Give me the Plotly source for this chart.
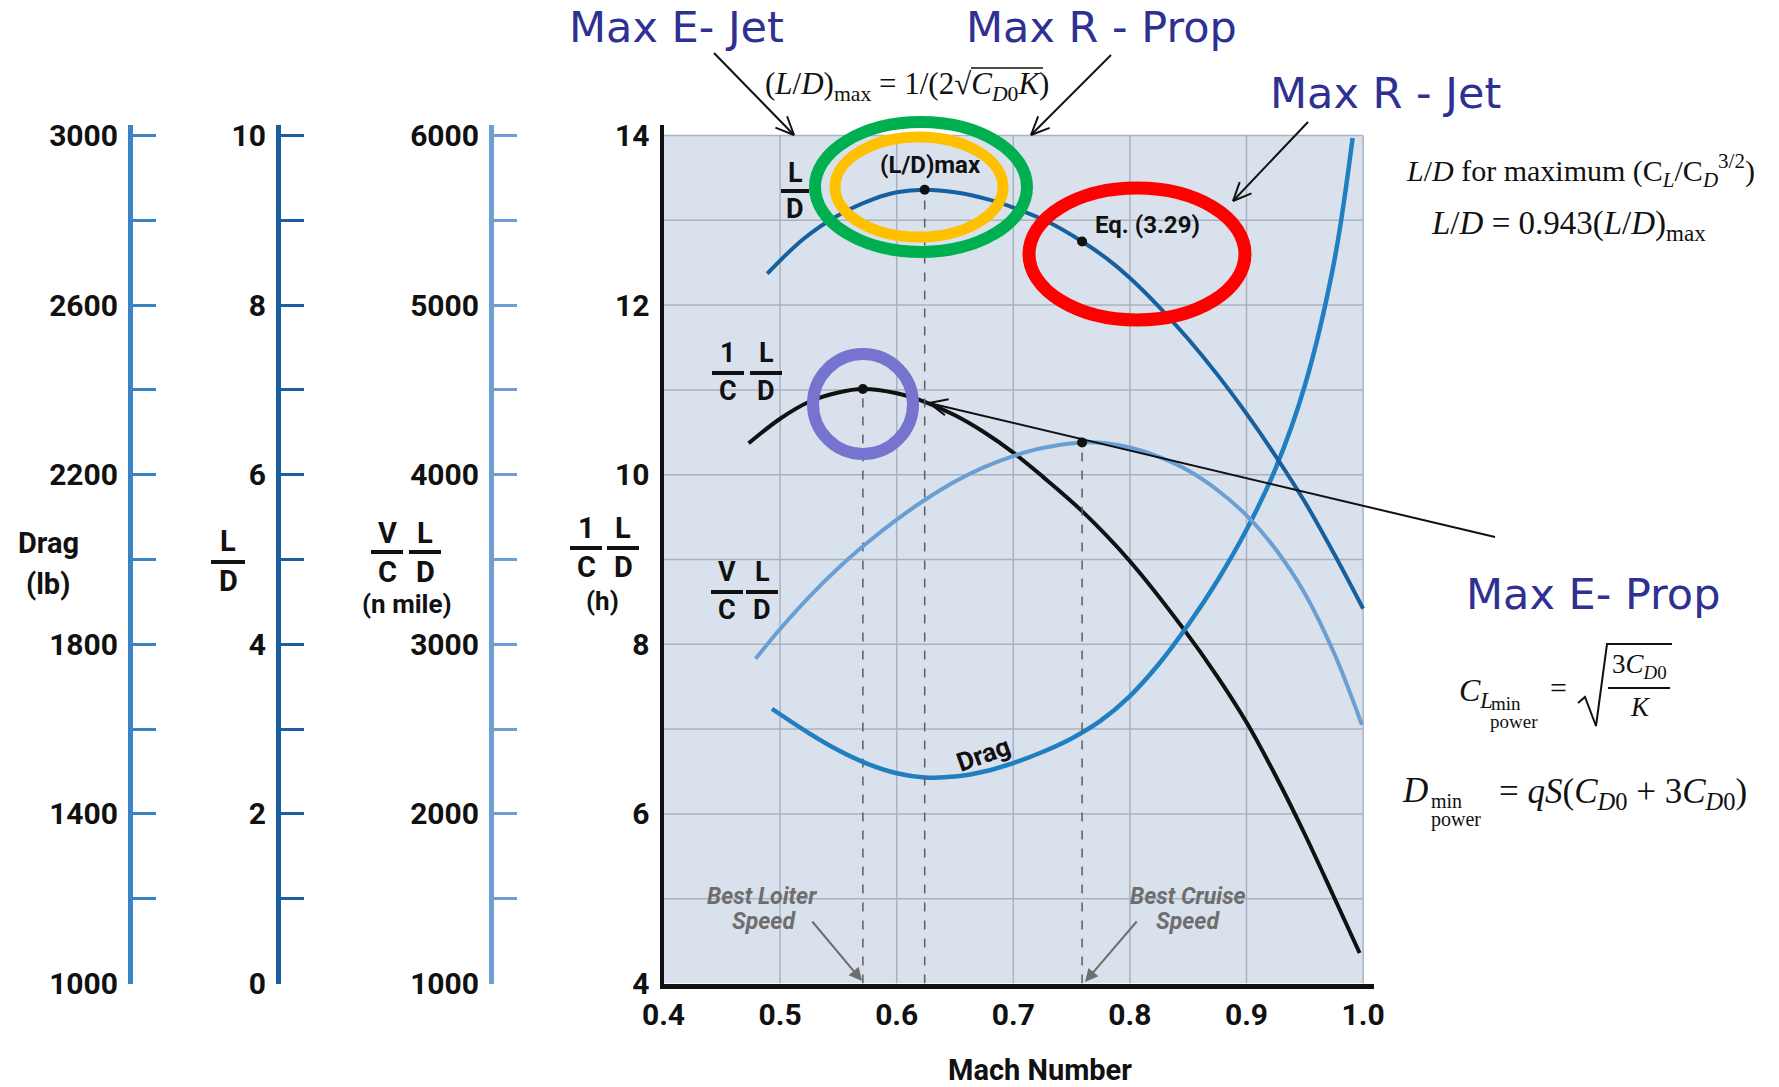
import math
import plotly.graph_objects as go

W, H = 1779, 1087

# ---------------- data (each curve in its own axis units) ----------------
# L/D versus Mach number
mach_ld = [0.489, 0.52, 0.55, 0.58, 0.60, 0.624, 0.65, 0.68, 0.70, 0.73, 0.759,
           0.78, 0.80, 0.825, 0.85, 0.875, 0.90, 0.925, 0.95, 0.975, 1.0]
ld = [8.37, 8.78, 9.06, 9.25, 9.33, 9.36, 9.33, 9.24, 9.15, 8.98, 8.75,
      8.55, 8.32, 7.98, 7.60, 7.18, 6.72, 6.22, 5.68, 5.07, 4.42]

# (1/C)(L/D) endurance parameter, hours
mach_endur = [0.473, 0.50, 0.525, 0.55, 0.571, 0.60, 0.624, 0.65, 0.675, 0.70,
              0.725, 0.759, 0.80, 0.845, 0.875, 0.90, 0.925, 0.95, 0.975, 0.997]
endur_h = [10.37, 10.66, 10.86, 10.97, 11.01, 10.96, 10.86, 10.70, 10.50, 10.26,
           9.98, 9.57, 8.98, 8.20, 7.62, 7.08, 6.45, 5.76, 5.02, 4.36]

# (V/C)(L/D) range parameter, n mile
mach_range = [0.479, 0.50, 0.525, 0.55, 0.575, 0.60, 0.625, 0.65, 0.675, 0.70,
              0.725, 0.759, 0.78, 0.80, 0.825, 0.85, 0.875, 0.90, 0.925, 0.95,
              0.975, 0.999]
range_nmi = [2915, 3090, 3280, 3450, 3600, 3735, 3855, 3960, 4045, 4110,
             4157, 4190, 4185, 4160, 4105, 4025, 3910, 3760, 3560, 3300,
             2950, 2525]

# Drag, lb
mach_drag = [0.493, 0.525, 0.55, 0.575, 0.60, 0.624, 0.65, 0.675, 0.70, 0.725,
             0.75, 0.775, 0.80, 0.825, 0.85, 0.875, 0.90, 0.925, 0.95, 0.975,
             0.991]
drag_lb = [1648, 1590, 1550, 1518, 1496, 1486, 1488, 1500, 1520, 1546,
           1578, 1620, 1678, 1754, 1846, 1950, 2070, 2215, 2410, 2700,
           2994]

# Characteristic speeds
m_loiter = 0.571
m_ldmax = 0.624
m_cruise = 0.759

# Axis tick labels
mach_ticks = [0.4, 0.5, 0.6, 0.7, 0.8, 0.9, 1.0]
endur_ticks = [4, 6, 8, 10, 12, 14]
drag_ticks = [1000, 1400, 1800, 2200, 2600, 3000]
ld_ticks = [0, 2, 4, 6, 8, 10]
range_ticks = [1000, 2000, 3000, 4000, 5000, 6000]

# ---------------- styling ----------------
C_DRAG = "#1f7fc0"
C_LD = "#17609f"
C_RANGE = "#6a9fd3"
C_AX_DRAG = "#3b84c4"
C_AX_LD = "#1b5e9f"
C_AX_RANGE = "#6d9fd4"
C_BG = "#d9e1ed"
C_GRID = "#aab2bd"
C_NOTE = "#2e3192"
BOLD = "Roboto"
SERIF = "Liberation Serif"

# main axis range; the scale axes share the same vertical mapping
y_lo, y_hi = 4.0, 14.12
x_lo, x_hi = 0.4, 1.009

# pixel layout of the plotting area
px_left, px_y4, px_per_unit = 663.5, 983.5, 84.8
px_per_mach = 1166.0
px_right = px_left + (x_hi - x_lo) * px_per_mach
px_top = px_y4 - (y_hi - y_lo) * px_per_unit


def px(x):
    return x / W


def py(y):
    return 1 - y / H


def value_at(xs, ys, m):
    return ys[xs.index(m)]


fig = go.Figure()

line_kw = dict(shape="spline", smoothing=1.0)
fig.add_trace(go.Scatter(x=mach_range, y=range_nmi, mode="lines", yaxis="y4",
                         line=dict(color=C_RANGE, width=4, **line_kw)))
fig.add_trace(go.Scatter(x=mach_drag, y=drag_lb, mode="lines", yaxis="y2",
                         line=dict(color=C_DRAG, width=4.5, **line_kw)))
fig.add_trace(go.Scatter(x=mach_ld, y=ld, mode="lines", yaxis="y3",
                         line=dict(color=C_LD, width=4, **line_kw)))
fig.add_trace(go.Scatter(x=mach_endur, y=endur_h, mode="lines", yaxis="y",
                         line=dict(color="#111111", width=4, **line_kw)))

# dashed guide lines down to the Mach axis
endur_peak = value_at(mach_endur, endur_h, m_loiter)
ld_peak = value_at(mach_ld, ld, m_ldmax)
ld_eq = value_at(mach_ld, ld, m_cruise)
range_peak = value_at(mach_range, range_nmi, m_cruise)

guides = [
    (m_loiter, endur_peak, "y", 4),
    (m_ldmax, ld_peak, "y3", 0),
    (m_cruise, range_peak, "y4", 1000),
]
for m, top, ax, base in guides:
    fig.add_trace(go.Scatter(x=[m, m], y=[base, top], mode="lines", yaxis=ax,
                             line=dict(color="#5e5e5e", width=1.5, dash="dash")))

# marked points
dot = dict(color="#111111", size=10)
fig.add_trace(go.Scatter(x=[m_loiter], y=[endur_peak], mode="markers", yaxis="y", marker=dot))
fig.add_trace(go.Scatter(x=[m_ldmax, m_cruise], y=[ld_peak, ld_eq], mode="markers",
                         yaxis="y3", marker=dot))
fig.add_trace(go.Scatter(x=[m_cruise], y=[range_peak], mode="markers", yaxis="y4", marker=dot))

tick_font = dict(family=BOLD, size=30, color="#111111", weight="bold")
dom_x = [px(px_left), px(px_right)]
dom_y = [py(px_y4), py(px_top)]


def scale_axis(pos_px, lo, per_unit, step, labels, color):
    hi = lo + (y_hi - y_lo) * per_unit
    vals = []
    v = lo
    while v <= labels[-1] + 1e-9:
        vals.append(v)
        v += step
    text = [(str(int(v)) if any(abs(v - t) < 1e-9 for t in labels) else "") for v in vals]
    return dict(overlaying="y", anchor="free", position=px(pos_px), side="left",
                domain=dom_y, range=[lo, hi], tickmode="array", tickvals=vals,
                ticktext=text, ticks="inside", ticklen=23, tickwidth=3,
                tickcolor=color, showline=True, linecolor=color, linewidth=5,
                showgrid=False, zeroline=False, tickfont=tick_font,
                ticklabelstandoff=4, automargin=False)


fig.update_layout(
    width=W, height=H, autosize=False,
    margin=dict(l=0, r=0, t=0, b=0, autoexpand=False),
    paper_bgcolor="white", plot_bgcolor="rgba(0,0,0,0)",
    showlegend=False,
    xaxis=dict(domain=dom_x, range=[x_lo, x_hi], tickmode="array",
               tickvals=mach_ticks, ticktext=[f"{v:.1f}" for v in mach_ticks],
               showline=True, linecolor="#111111", linewidth=5, ticks="",
               showgrid=False, zeroline=False, tickfont=tick_font,
               ticklabelstandoff=0, anchor="y", automargin=False),
    yaxis=dict(domain=dom_y, range=[y_lo, y_hi], tickmode="array",
               tickvals=endur_ticks, ticktext=[str(v) for v in endur_ticks],
               showline=True, linecolor="#111111", linewidth=4, ticks="",
               showgrid=False, zeroline=False, tickfont=tick_font,
               ticklabelstandoff=4, anchor="x", automargin=False),
    yaxis2=scale_axis(130, 1000, 200, 200, drag_ticks, C_AX_DRAG),
    yaxis3=scale_axis(278, 0, 1, 1, ld_ticks, C_AX_LD),
    yaxis4=scale_axis(491, 1000, 500, 500, range_ticks, C_AX_RANGE),
)

shapes = []
# chart background and grid
shapes.append(dict(type="rect", xref="x", yref="y", x0=0.4, x1=1.0, y0=4, y1=14,
                   fillcolor=C_BG, line=dict(width=0), layer="below"))
for v in range(5, 15):
    shapes.append(dict(type="line", xref="x", yref="y", x0=0.4, x1=1.0, y0=v, y1=v,
                       line=dict(color=C_GRID, width=1.5), layer="below"))
for m in [0.5, 0.6, 0.7, 0.8, 0.9, 1.0]:
    shapes.append(dict(type="line", xref="x", yref="y", x0=m, x1=m, y0=4, y1=14,
                       line=dict(color=C_GRID, width=1.5), layer="below"))


def pline(x0, y0, x1, y1, color="#111111", width=2):
    shapes.append(dict(type="line", xref="paper", yref="paper",
                       x0=px(x0), y0=py(y0), x1=px(x1), y1=py(y1),
                       line=dict(color=color, width=width)))


def open_arrow(x0, y0, x1, y1, head=20, ang=24, width=2):
    pline(x0, y0, x1, y1, width=width)
    th = math.atan2(y0 - y1, x0 - x1)
    for s in (1, -1):
        a = th + s * math.radians(ang)
        pline(x1, y1, x1 + head * math.cos(a), y1 + head * math.sin(a), width=width)


def ring(cx, cy, rx, ry, color, width):
    shapes.append(dict(type="circle", xref="paper", yref="paper",
                       x0=px(cx - rx), x1=px(cx + rx), y0=py(cy + ry), y1=py(cy - ry),
                       line=dict(color=color, width=width), layer="above"))


annotations = []


def txt(x, y, s, size=28, color="#111111", family=BOLD, weight="bold", style="normal",
        xanchor="center", angle=0):
    annotations.append(dict(x=px(x), y=py(y), xref="paper", yref="paper", text=s,
                            showarrow=False, xanchor=xanchor, yanchor="middle",
                            textangle=angle,
                            font=dict(family=family, size=size, color=color,
                                      weight=weight, style=style)))


def frac(cols, y_num, y_bar, y_den, size=28, half=16):
    # cols: list of (x_center, numerator, denominator)
    for xc, num, den in cols:
        txt(xc, y_num, num, size=size)
        txt(xc, y_den, den, size=size)
        pline(xc - half, y_bar, xc + half, y_bar, width=4)


# axis titles on the left
txt(48, 543, "Drag", size=29)
txt(48, 584, "(lb)", size=29)
frac([(228, "L", "D")], 541, 562, 581, size=29, half=17)
frac([(387, "V", "C"), (425, "L", "D")], 533, 552, 572, size=29)
txt(407, 604, "(n mile)", size=26)
frac([(586, "1", "C"), (623, "L", "D")], 528, 548, 567, size=29)
txt(602, 601, "(h)", size=26)

# curve labels inside the chart
frac([(795, "L", "D")], 173, 191, 209, size=27, half=14)
frac([(728, "1", "C"), (766, "L", "D")], 353, 373, 391, size=27)
frac([(727, "V", "C"), (762, "L", "D")], 572, 592, 610, size=27)
txt(930, 165, "(L/D)max", size=24)
txt(1147, 225, "Eq. (3.29)", size=24)
txt(984, 754, "Drag", size=26, angle=-20)
txt(1040, 1070, "Mach Number", size=29)

# speed call-outs
grey = "#6e6e6e"
txt(762, 896, "Best Loiter", size=23, color=grey, style="italic")
txt(764, 921, "Speed", size=23, color=grey, style="italic")
txt(1188, 896, "Best Cruise", size=23, color=grey, style="italic")
txt(1188, 921, "Speed", size=23, color=grey, style="italic")
for tip, tail in [((862, 981), (811, 920)), ((1085, 982), (1138, 920))]:
    annotations.append(dict(x=px(tip[0]), y=py(tip[1]), xref="paper", yref="paper",
                            text="", showarrow=True, ax=tail[0] - tip[0],
                            ay=tail[1] - tip[1], arrowhead=2, arrowsize=1.3,
                            arrowwidth=2, arrowcolor=grey, standoff=0))

# flight-condition notes
txt(676, 27, "Max E- Jet", size=43, color=C_NOTE, family="DejaVu Sans", weight="normal")
txt(1101, 27, "Max R - Prop", size=43, color=C_NOTE, family="DejaVu Sans", weight="normal")
txt(1385, 93, "Max R - Jet", size=43, color=C_NOTE, family="DejaVu Sans", weight="normal")
txt(1593, 594, "Max E- Prop", size=43, color=C_NOTE, family="DejaVu Sans", weight="normal")

open_arrow(714, 53, 794, 135)
open_arrow(1111, 55, 1031, 135)
open_arrow(1308, 122, 1233, 201)
open_arrow(1495, 537, 929, 403)

# formulas
txt(907, 86, "(<i>L</i>/<i>D</i>)<sub>max</sub> = 1/(2√<i>C</i><sub><i>D</i>0</sub><i>K</i>)",
    size=31, family=SERIF, weight="normal")
pline(971, 68, 1043, 68, width=1.5)
txt(1580, 170, "<i>L</i>/<i>D</i> for maximum (C<sub><i>L</i></sub>/C<sub><i>D</i></sub><sup>3/2</sup>)",
    size=30, family=SERIF, weight="normal")
txt(1568, 226, "<i>L</i>/<i>D</i> = 0.943(<i>L</i>/<i>D</i>)<sub>max</sub>",
    size=33, family=SERIF, weight="normal")

txt(1457, 692, "<i>C</i><sub><i>L</i></sub>", size=32, family=SERIF, weight="normal",
    xanchor="left")
txt(1506, 703, "min", size=19, family=SERIF, weight="normal")
txt(1514, 721, "power", size=19, family=SERIF, weight="normal")
txt(1558, 687, "=", size=30, family=SERIF, weight="normal")
shapes.append(dict(type="path", xref="paper", yref="paper",
                   path=(f"M {px(1578)},{py(703)} L {px(1585)},{py(697)} "
                         f"L {px(1596)},{py(726)} L {px(1607)},{py(644)} L {px(1672)},{py(644)}"),
                   line=dict(color="#111111", width=2)))
txt(1639, 666, "3<i>C</i><sub><i>D</i>0</sub>", size=27, family=SERIF, weight="normal")
pline(1608, 688, 1670, 688, width=2)
txt(1640, 707, "<i>K</i>", size=27, family=SERIF, weight="normal")

txt(1415, 790, "<i>D</i>", size=35, family=SERIF, weight="normal")
txt(1446, 801, "min", size=20, family=SERIF, weight="normal")
txt(1456, 819, "power", size=20, family=SERIF, weight="normal")
txt(1497, 793, "= <i>qS</i>(<i>C</i><sub><i>D</i>0</sub> + 3<i>C</i><sub><i>D</i>0</sub>)",
    size=35, family=SERIF, weight="normal", xanchor="left")

# highlight rings
ring(921, 187, 106, 65, "#00b050", 12)
ring(919, 187, 84, 50, "#ffc000", 11)
ring(1137, 254, 108, 66, "#ff0000", 13)
ring(863, 404, 50, 50, "#7674cf", 12)

fig.update_layout(shapes=shapes, annotations=annotations)
fig.write_html("out.html")
